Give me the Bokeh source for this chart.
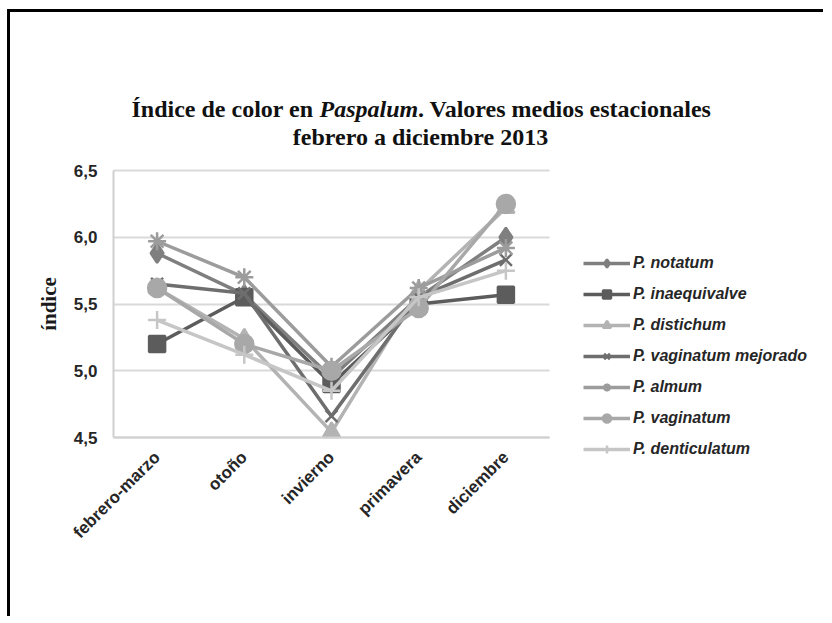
from bokeh.plotting import figure
from bokeh.models import Legend, LegendItem, FixedTicker, Range1d, Label
from bokeh.embed import file_html
from bokeh.resources import INLINE

categories = ["febrero-marzo", "otoño", "invierno", "primavera", "diciembre"]

notatum = [5.88, 5.57, 4.95, 5.55, 6.00]
inaequivalve = [5.20, 5.55, 4.90, 5.50, 5.57]
distichum = [5.62, 5.24, 4.54, 5.60, 6.22]
vaginatum_mejorado = [5.65, 5.58, 4.66, 5.55, 5.83]
almum = [5.97, 5.70, 5.03, 5.62, 5.92]
vaginatum = [5.62, 5.20, 5.00, 5.47, 6.25]
denticulatum = [5.38, 5.12, 4.85, 5.55, 5.75]

series_names = ["P. notatum", "P. inaequivalve", "P. distichum",
                "P. vaginatum mejorado", "P. almum", "P. vaginatum",
                "P. denticulatum"]
series_values = [notatum, inaequivalve, distichum, vaginatum_mejorado,
                 almum, vaginatum, denticulatum]
series_colors = ["#7f7f7f", "#5c5c5c", "#b3b3b3", "#6e6e6e", "#9c9c9c",
                 "#a8a8a8", "#c6c6c6"]
series_markers = ["diamond", "square", "triangle", "x", "asterisk",
                  "circle", "cross"]
series_sizes = [19, 16, 17, 17, 18, 18, 18]

y_min, y_max = 4.5, 6.5
y_ticks = [4.5, 5.0, 5.5, 6.0, 6.5]
y_tick_labels = ["4,5", "5,0", "5,5", "6,0", "6,5"]

title_line1_parts = ["Índice de color en", "Paspalum", ". Valores medios estacionales"]
title_line2 = "febrero a diciembre 2013"
y_label = "índice"

# ---- layout in page pixels ----
W, H = 816, 607
OX, OY = 10, 12                 # canvas origin on the page
PL, PR, PT, PB = 113, 549, 170, 437   # plot area on the page
n = len(categories)
xu = (PR - PL) / n              # px per category
yu = (PB - PT) / (y_max - y_min)

x_idx = list(range(n))
xr = Range1d(-0.5 - (PL - OX) / xu, n - 0.5 + (OX + W - PR) / xu)
yr = Range1d(y_min - (OY + H - PB) / yu, y_max + (PT - OY) / yu)

p = figure(width=W, height=H, x_range=xr, y_range=yr,
           output_backend="svg", toolbar_location=None,
           min_border=0, min_border_left=0, min_border_right=0,
           min_border_top=0, min_border_bottom=0)
p.styles = {"border-top": "3px solid #000000", "border-left": "3px solid #000000",
            "margin-left": "7px", "margin-top": "9px"}
p.outline_line_color = None
p.background_fill_color = "white"
p.border_fill_color = "white"

p.xaxis.fixed_location = y_min
p.yaxis.fixed_location = -0.5
p.xaxis.bounds = (-0.5, n - 0.5)
p.yaxis.bounds = (y_min, y_max)

p.xaxis.ticker = FixedTicker(ticks=x_idx)
p.xaxis.major_label_overrides = {i: c for i, c in zip(x_idx, categories)}
p.yaxis.ticker = FixedTicker(ticks=y_ticks)
p.yaxis.major_label_overrides = {tk: lb for tk, lb in zip(y_ticks, y_tick_labels)}

p.xgrid.visible = False
p.ygrid.ticker = FixedTicker(ticks=y_ticks)
p.ygrid.grid_line_color = "#d9d9d9"
p.ygrid.grid_line_width = 2
p.ygrid.cross_bounds = (-0.5, n - 0.5)

for ax in (p.xaxis[0], p.yaxis[0]):
    ax.axis_line_color = "#d0d0d0"
    ax.axis_line_width = 2
    ax.major_tick_line_color = None
    ax.minor_tick_line_color = None
    ax.major_tick_out = 0
    ax.major_tick_in = 0
    ax.major_label_text_font = "Liberation Sans"
    ax.major_label_text_font_style = "bold"
    ax.major_label_text_font_size = "17px"
    ax.major_label_text_color = "#262626"

p.yaxis.major_label_standoff = 16
p.yaxis.axis_label = y_label
p.yaxis.axis_label_text_font = "Liberation Serif"
p.yaxis.axis_label_text_font_style = "bold"
p.yaxis.axis_label_text_font_size = "21px"
p.yaxis.axis_label_text_color = "#1a1a1a"
p.yaxis.axis_label_standoff = 10

p.xaxis.major_label_orientation = 0.785398
p.xaxis.major_label_standoff = 17

items = []
for name, vals, col, mk, sz in zip(series_names, series_values, series_colors,
                                   series_markers, series_sizes):
    r1 = p.line(x_idx, vals, line_color=col, line_width=3.5)
    r2 = p.scatter(x_idx, vals, marker=mk, size=sz, fill_color=col,
                   line_color=col, line_width=2.5)
    items.append(LegendItem(label=name, renderers=[r1, r2]))

legend = Legend(items=items, location=(583 - OX, OY + H - 459), padding=0, margin=0,
                spacing=11, glyph_height=20, glyph_width=47, label_height=20,
                label_standoff=3, background_fill_alpha=0,
                border_line_color=None,
                label_text_font="Liberation Sans",
                label_text_font_style="bold italic",
                label_text_font_size="16px",
                label_text_color="#262626")
p.add_layout(legend)

def title_label(px, py, text, style, align="left"):
    return Label(x=px - OX, y=OY + H - py, x_units="screen", y_units="screen",
                 text=text, text_font="Liberation Serif", text_font_style=style,
                 text_font_size="24px", text_baseline="alphabetic",
                 text_align=align, text_color="#111111")

t0 = 131
p.add_layout(title_label(t0, 108, title_line1_parts[0], "bold"))
p.add_layout(title_label(t0 + 188, 108, title_line1_parts[1], "bold italic"))
p.add_layout(title_label(t0 + 188 + 98.5, 108, title_line1_parts[2], "bold"))
p.add_layout(title_label(420, 136, title_line2, "bold", "center"))

open("out.html", "w").write(file_html(p, INLINE))
